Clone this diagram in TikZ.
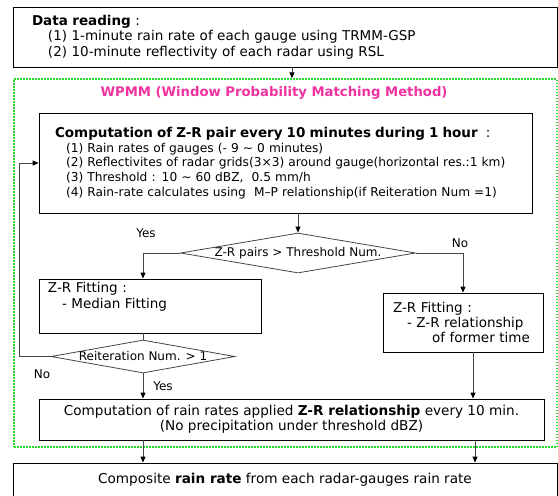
\documentclass[tikz,border=0pt]{standalone}
\usepackage{fontspec}
\setmainfont{DejaVu Sans}
\usepackage{tikz}
\usetikzlibrary{arrows.meta,shapes.geometric}
\usetikzlibrary{positioning}
\definecolor{linegray}{RGB}{70,70,70}
\definecolor{framegreen}{RGB}{40,215,40}
\definecolor{wpmmpink}{RGB}{240,50,160}
\tikzstyle{box}      = [draw,rectangle,line width=0.8pt,inner ysep=0pt,align=left]
\tikzstyle{decision} = [draw=linegray,diamond,line width=0.8pt,inner sep=0pt]
\tikzstyle{answer}   = [font=\fontsize{12}{14}\selectfont]
\tikzstyle{conn}     = [linegray,line width=0.8pt]

\begin{document}
\begin{tikzpicture}[x=1pt,y=-1pt,>={Triangle[length=6pt,width=5pt,color=black]}]
\useasboundingbox (0,0) rectangle (558,496);

\node[box,minimum width=544,minimum height=60,text width=506,inner xsep=19pt,
      font=\fontsize{13.5}{15.5}\selectfont] (reading) at (285,37)
  {\textbf{Data reading} :\\
   \hspace*{16pt}(1) 1-minute rain rate of each gauge using TRMM-GSP\\
   \hspace*{16pt}(2) 10-minute reflectivity of each radar using RSL};

\node[draw=framegreen,line width=1.5pt,dash pattern=on 1.5pt off 1.5pt,
      minimum width=543,minimum height=368] (frame) at (285.5,263) {};
\node[text=wpmmpink,font=\fontsize{13.2}{15}\selectfont\bfseries] (wpmm) at (274,93)
  {WPMM (Window Probability Matching Method)};

\node[box,minimum width=493,minimum height=100,text width=461,inner xsep=16pt,
      font=\fontsize{12.2}{14.7}\selectfont] (pairs) at (285.5,163)
  {{\fontsize{13.5}{14.7}\selectfont\textbf{Computation of Z-R pair every 10 minutes during 1 hour}~~:}\\
   \hspace*{11pt}(1) Rain rates of gauges (- 9 ∼ 0 minutes)\\
   \hspace*{11pt}(2) Reflectivites of radar grids(3×3) around gauge(horizontal res.:1 km)\\
   \hspace*{11pt}(3) Threshold : 10 ∼ 60 dBZ,\ \ 0.5 mm/h\\
   \hspace*{11pt}(4) Rain-rate calculates using\ \ M--P relationship(if Reiteration Num =1)};

\node[decision,minimum width=235,minimum height=40,
      label={[font=\fontsize{12}{14}\selectfont]center:Z-R pairs > Threshold Num.}] (thresh) at (298,253) {};

\node[box,minimum width=222,minimum height=54,text width=204,inner xsep=9pt,
      font=\fontsize{13.5}{16}\selectfont] (median) at (150,306)
  {Z-R Fitting :\\ \hspace*{14pt}- Median Fitting\\ \strut};

\node[box,minimum width=160,minimum height=59,text width=140,inner xsep=10pt,
      font=\fontsize{13.5}{15}\selectfont] (former) at (463,322.5)
  {Z-R Fitting :\\ \hspace*{14pt}- Z-R relationship\\ \hspace*{39pt}of former time};

\node[decision,minimum width=184,minimum height=33,
      label={[font=\fontsize{12}{14}\selectfont]center:Reiteration Num. > 1}] (reiter) at (143,356.5) {};

\node[box,minimum width=505,minimum height=41,align=center,
      font=\fontsize{13.6}{15}\selectfont] (apply) at (291.5,419.5)
  {Computation of rain rates applied \textbf{Z-R relationship} every 10 min.\\
   (No precipitation under threshold dBZ)};

\node[box,minimum width=544,minimum height=34,align=center,
      font=\fontsize{13.6}{15}\selectfont] (composite) at (285,480)
  {Composite \textbf{rain rate} from each radar-gauges rain rate};

% yes / no labels
\node[answer] (yes1) at (146,233) {Yes};
\node[answer] (no1)  at (460,243) {No};
\node[answer] (no2)  at (42,374)  {No};
\node[answer] (yes2) at (163,386) {Yes};

% connectors
\draw[conn,->] ([xshift=7pt]reading.south) -- ([xshift=7pt]reading.south |- frame.north);
\draw[conn,->] (thresh.north |- pairs.south) -- (thresh.north);
\draw[conn,->] (thresh.west) -| ([xshift=-7pt]median.north);
\draw[conn,->] (thresh.east) -| (former.north);
\draw[conn] (reiter.north |- median.south) -- (reiter.north);
\draw[conn,->] (reiter.west) -- ++(-31,0) |- (pairs.west);
\draw[conn,->] (reiter.south) -- (reiter.south |- apply.north);
\draw[conn,->] ([xshift=10pt]former.south) -- ([xshift=10pt]former.south |- apply.north);
\draw[conn,->] (reiter.south |- apply.south) -- (reiter.south |- composite.north);
\draw[conn,->] ([xshift=12pt]former.south |- apply.south) -- ([xshift=12pt]former.south |- composite.north);

\end{tikzpicture}
\end{document}
